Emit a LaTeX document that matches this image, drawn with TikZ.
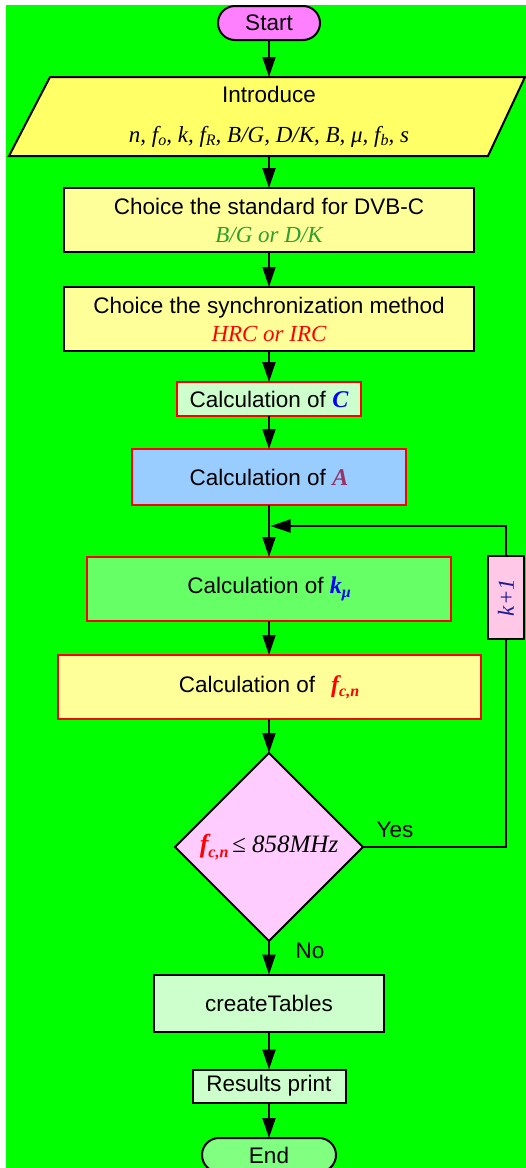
\documentclass[tikz,border=0pt]{standalone}
\usepackage{fontspec}
\setmainfont{Liberation Sans}
\newfontfamily\tms{Liberation Serif}
\usetikzlibrary{shapes.geometric,arrows.meta}
\definecolor{bggreen}{HTML}{00FF00}
\definecolor{startc}{HTML}{FF80FF}
\definecolor{introc}{HTML}{FFFF66}
\definecolor{lyel}{HTML}{FFFF99}
\definecolor{lgrn}{HTML}{CCFFCC}
\definecolor{lblue}{HTML}{99CCFF}
\definecolor{mgrn}{HTML}{66FF66}
\definecolor{kpink}{HTML}{FFC8E6}
\definecolor{dpink}{HTML}{FFCCFF}
\definecolor{endc}{HTML}{80FF80}
\definecolor{txtgreen}{HTML}{2E9E2E}
\definecolor{amaroon}{HTML}{993366}
\definecolor{navy}{HTML}{1A1A99}
\newcommand\lsub[1]{\raisebox{-0.35ex}{\fontsize{16}{16}\selectfont #1}}
\newcommand\sym[2]{{\fontsize{24}{24}\selectfont\tms\bfseries\itshape\color{#1}#2}}
\begin{document}
\begin{tikzpicture}[x=1pt,y=-1pt,
  base/.style={line width=2pt, inner sep=0pt, outer sep=0pt, align=center,
    font=\fontsize{22.5}{30}\selectfont},
  blk/.style={base, draw=black},
  redb/.style={base, draw=red},
  term/.style={blk, rounded corners=17pt, minimum height=34pt},
  arr/.style={line width=2pt, -{Triangle[length=20pt,width=13pt]}},
  ln/.style={line width=2pt},
  lbl/.style={font=\fontsize{22.5}{24}\selectfont, inner sep=0pt},
  ser/.style={font=\fontsize{23}{26}\selectfont\tms\itshape}
]
\useasboundingbox (0,0) rectangle (526,1168);
\fill[white] (0,0) rectangle (526,1168);
\fill[bggreen] (6,5) rectangle (526,1168);

% Start
\node[term, fill=startc, minimum width=102pt] (start) at (269,23) {Start};

% Introduce parallelogram
\draw[line width=2pt, fill=introc] (50,77) -- (525,77) -- (488,156) -- (9,156) -- cycle;
\node[base, minimum width=300pt, minimum height=79pt] (intro) at (269,116.5)
  {Introduce\\[10pt]{\fontsize{23}{26}\selectfont\tms\itshape n, f\lsub{o}, k, f\lsub{R}, B/G, D/K, B, μ, f\lsub{b}, s}};

% Standard
\node[blk, fill=lyel, minimum width=410pt, minimum height=64pt] (std) at (269,220)
  {Choice the standard for DVB-C\\[-2pt]{\fontsize{23}{26}\selectfont\tms\itshape\color{txtgreen}B/G or D/K}};

% Sync
\node[blk, fill=lyel, minimum width=410pt, minimum height=64pt] (sync) at (269,319)
  {Choice the synchronization method\\[-2pt]{\fontsize{23}{26}\selectfont\tms\itshape\color{red}HRC or IRC}};

% Calc C
\node[redb, fill=lgrn, minimum width=184pt, minimum height=34pt] (calcC) at (269,399)
  {Calculation of \sym{blue}{C}};

% Calc A
\node[redb, fill=lblue, minimum width=274pt, minimum height=56pt] (calcA) at (269,477)
  {Calculation of \sym{amaroon}{A}};

% Calc k_mu
\node[redb, fill=mgrn, minimum width=364pt, minimum height=64pt] (kmu) at (269,589)
  {Calculation of \sym{blue}{k\lsub{μ}}};

% k+1
\node[blk, fill=kpink, minimum width=36pt, minimum height=83pt] (kp1) at (506,597.5)
  {\rotatebox{90}{\fontsize{23}{26}\selectfont\tms\itshape\color{navy}k+1}};

% Calc f_cn
\node[redb, fill=lyel, minimum width=423pt, minimum height=64pt] (fcn) at (269,687)
  {Calculation of\hspace{16pt}\sym{red}{f\lsub{c,n}}};

% Decision
\node[blk, diamond, aspect=1, fill=dpink, minimum width=188pt, minimum height=188pt] (dia) at (269,847)
  {{\fontsize{26}{26}\selectfont\tms\bfseries\itshape\color{red}f\lsub{c,n}}\,{\fontsize{25}{26}\selectfont\tms\itshape ≤ 858MHz}};

% createTables
\node[blk, fill=lgrn, minimum width=230pt, minimum height=57pt] (tables) at (269,1003)
  {createTables};

% Results print
\node[blk, fill=lgrn, minimum width=153pt, minimum height=33pt] (results) at (269,1086)
  {Results print};

% End
\node[term, fill=endc, minimum width=134pt] (endn) at (269,1155) {End};

% Labels
\node[lbl] (yes) at (395,830) {Yes};
\node[lbl] (no) at (310,951) {No};

% Coordinates for loop
\coordinate (yesc) at (506,847);
\coordinate (loopc) at (506,526);
\coordinate (merge) at (270.5,526);

% Connectors
\draw[arr] (start.south) -- (intro.north);
\draw[arr] (intro.south) -- (std.north);
\draw[arr] (std.south) -- (sync.north);
\draw[arr] (sync.south) -- (calcC.north);
\draw[arr] (calcC.south) -- (calcA.north);
\draw[arr] (calcA.south) -- (kmu.north);
\draw[arr] (kmu.south) -- (fcn.north);
\draw[arr] (fcn.south) -- (dia.north);
\draw[arr] (dia.south) -- (tables.north);
\draw[arr] (tables.south) -- (results.north);
\draw[arr] (results.south) -- (endn.north);
\draw[ln] (dia.east) -- (yesc) -- (kp1.south);
\draw[arr] (kp1.north) -- (loopc) -- (merge);
\end{tikzpicture}
\end{document}
